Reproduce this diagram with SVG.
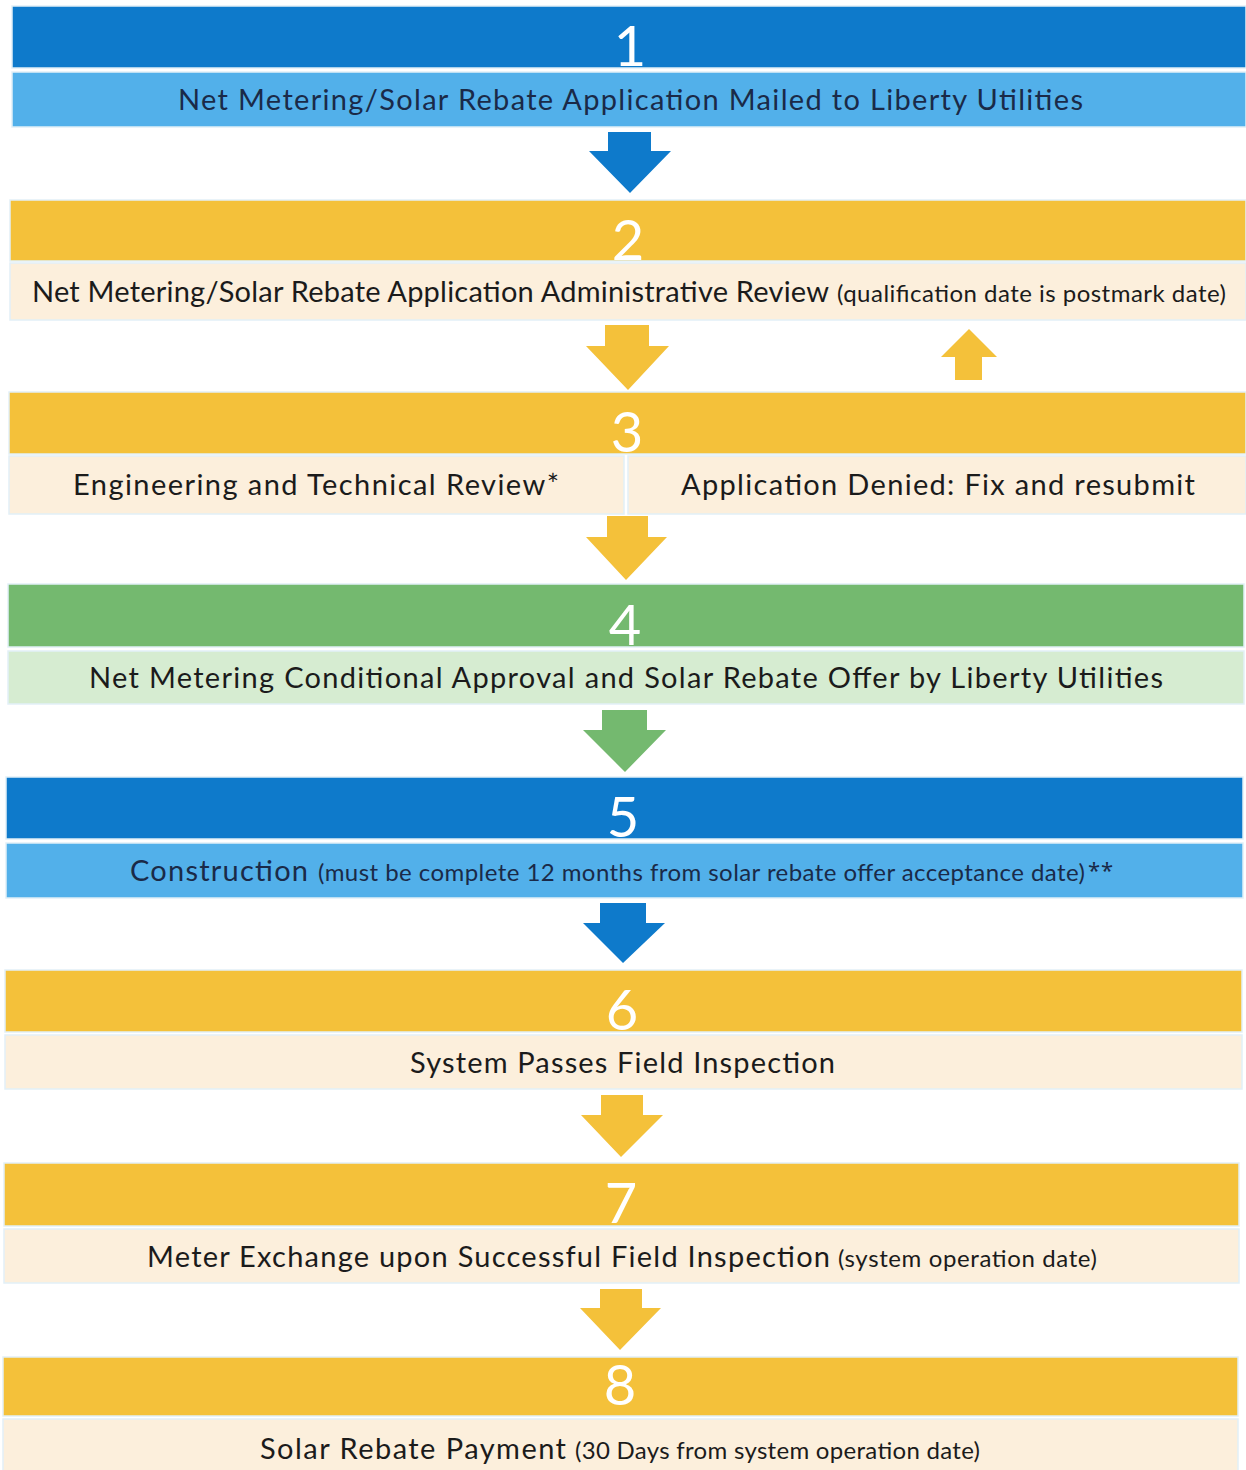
<svg xmlns="http://www.w3.org/2000/svg" width="1246" height="1470" viewBox="0 0 1246 1470">
<style>
.bg{fill:#ffffff}
.dblue{fill:#0e7acb}
.lblue{fill:#52b0ea}
.dyel{fill:#f4c13a}
.cream{fill:#fcefdc}
.dgreen{fill:#74b96f}
.lgreen{fill:#d6ecd1}
.band{stroke:#e2f0f7;stroke-width:1.5}
.num{font-family:Lato,"Noto Sans",sans-serif;font-size:56px;fill:#ffffff;text-anchor:middle}
.t{font-family:Lato,"Noto Sans",sans-serif;font-size:29px;fill:#1b1b1b}
.s{font-family:Lato,"Noto Sans",sans-serif;font-size:24px;fill:#1b1b1b}
.ast{font-family:"Noto Sans",sans-serif;font-size:22px;fill:#1a2a48;letter-spacing:1px}
.navy{fill:#1a2a48}
.a-blue{fill:#0e7acb}
.a-yel{fill:#f4c13a}
.a-green{fill:#74b96f}
</style>
<rect class="bg" x="0" y="0" width="1246" height="1470"/>

<g id="step1">
<rect class="dblue band" x="12" y="6" width="1234" height="62"/>
<rect class="lblue band" x="12" y="72" width="1234" height="55"/>
<text class="num" x="630" y="66">1</text>
<text class="t navy" x="178" y="110" textLength="905" lengthAdjust="spacing">Net Metering/Solar Rebate Application Mailed to Liberty Utilities</text>
</g>

<g id="step2">
<rect class="dyel band" x="10" y="200" width="1236" height="61"/>
<rect class="cream band" x="10" y="263" width="1236" height="57"/>
<text class="num" x="628" y="260">2</text>
<text class="t" x="32" y="302" textLength="797" lengthAdjust="spacing">Net Metering/Solar Rebate Application Administrative Review</text>
<text class="s" x="837" y="302" textLength="389" lengthAdjust="spacing">(qualification date is postmark date)</text>
</g>

<g id="step3">
<rect class="dyel band" x="9" y="392" width="1237" height="62"/>
<rect class="cream band" x="9" y="456" width="615" height="58"/>
<rect class="cream band" x="628" y="456" width="618" height="58"/>
<text class="num" x="627" y="452">3</text>
<text class="t" x="73" y="495" textLength="486" lengthAdjust="spacing">Engineering and Technical Review*</text>
<text class="t" x="681" y="495" textLength="514" lengthAdjust="spacing">Application Denied: Fix and resubmit</text>
</g>

<g id="step4">
<rect class="dgreen band" x="8" y="584" width="1236" height="63"/>
<rect class="lgreen band" x="8" y="651" width="1236" height="53"/>
<text class="num" x="625" y="645">4</text>
<text class="t" x="89" y="688" textLength="1074" lengthAdjust="spacing">Net Metering Conditional Approval and Solar Rebate Offer by Liberty Utilities</text>
</g>

<g id="step5">
<rect class="dblue band" x="6" y="777" width="1237" height="62"/>
<rect class="lblue band" x="6" y="843" width="1237" height="55"/>
<text class="num" x="623" y="837">5</text>
<text class="t navy" x="130" y="881" textLength="178" lengthAdjust="spacing">Construction</text>
<text class="s navy" x="318" y="881" textLength="767" lengthAdjust="spacing">(must be complete 12 months from solar rebate offer acceptance date)</text>
<text class="ast" x="1088" y="878">**</text>
</g>

<g id="step6">
<rect class="dyel band" x="5" y="970" width="1237" height="62"/>
<rect class="cream band" x="5" y="1035" width="1237" height="54"/>
<text class="num" x="622" y="1030">6</text>
<text class="t" x="410" y="1073" textLength="425" lengthAdjust="spacing">System Passes Field Inspection</text>
</g>

<g id="step7">
<rect class="dyel band" x="4" y="1163" width="1235" height="63"/>
<rect class="cream band" x="4" y="1229" width="1235" height="54"/>
<text class="num" x="621" y="1223">7</text>
<text class="t" x="147" y="1267" textLength="683" lengthAdjust="spacing">Meter Exchange upon Successful Field Inspection</text>
<text class="s" x="838" y="1267" textLength="259" lengthAdjust="spacing">(system operation date)</text>
</g>

<g id="step8">
<rect class="dyel band" x="3" y="1357" width="1235" height="59"/>
<rect class="cream band" x="3" y="1419" width="1235" height="52"/>
<text class="num" x="620" y="1405">8</text>
<text class="t" x="260" y="1459" textLength="306" lengthAdjust="spacing">Solar Rebate Payment</text>
<text class="s" x="575" y="1459" textLength="405" lengthAdjust="spacing">(30 Days from system operation date)</text>
</g>

<g id="connectors">
<polygon class="a-blue" points="608,132 651,132 651,151 671,151 630,193 589,151 608,151"/>
<polygon class="a-yel" points="605,325 649,325 649,346 669,346 628,390 586,346 605,346"/>
<polygon class="a-yel" points="955,380 982,380 982,357 997,357 969,329 941,357 955,357"/>
<polygon class="a-yel" points="607,516 648,516 648,537 667,537 626,580 586,537 607,537"/>
<polygon class="a-green" points="602,710 647,710 647,730 666,730 625,772 583,730 602,730"/>
<polygon class="a-blue" points="600,903 646,903 646,923 665,923 623,963 583,923 600,923"/>
<polygon class="a-yel" points="601,1095 643,1095 643,1115 663,1115 621,1157 581,1115 601,1115"/>
<polygon class="a-yel" points="600,1289 642,1289 642,1308 661,1308 620,1350 580,1308 600,1308"/>
</g>
</svg>
